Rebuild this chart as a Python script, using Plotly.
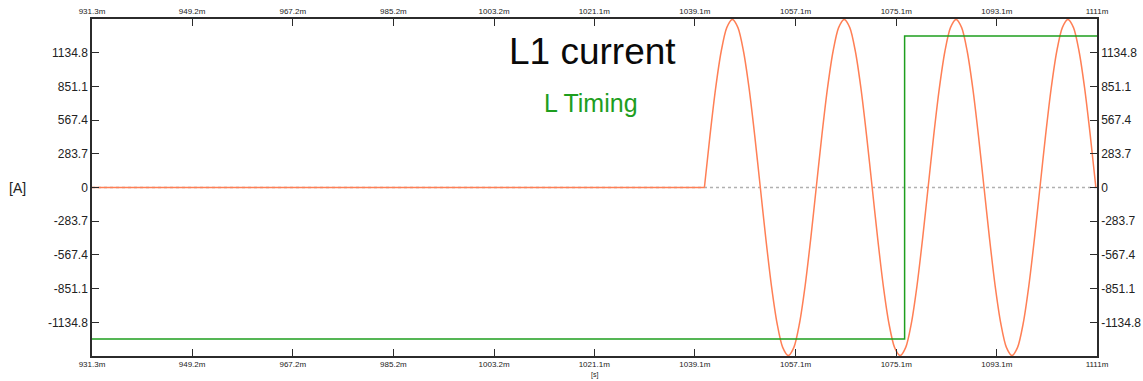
import plotly.graph_objects as go

# time in ms
x_ticks = [931.3, 949.2, 967.2, 985.2, 1003.2, 1021.1, 1039.1, 1057.1, 1075.1, 1093.1, 1111.0]
x_tick_labels = ["931.3m", "949.2m", "967.2m", "985.2m", "1003.2m", "1021.1m",
                 "1039.1m", "1057.1m", "1075.1m", "1093.1m", "1111m"]
y_ticks = [-1134.8, -851.1, -567.4, -283.7, 0, 283.7, 567.4, 851.1, 1134.8]
y_tick_labels = ["-1134.8", "-851.1", "-567.4", "-283.7", "0", "283.7", "567.4", "851.1", "1134.8"]

# L1 current (A): flat before the fault ...
pre_t = [931.3, 1040.8]
pre_a = [0, 0]
# ... then samples every 1 ms from 1040.8 ms
fault_t = [1040.8 + k for k in range(71)]
fault_a = [0, 437, 832, 1145, 1346, 1415, 1346, 1145, 832, 437,
           0, -437, -832, -1145, -1346, -1415, -1346, -1145, -832, -437,
           0, 437, 832, 1145, 1346, 1415, 1346, 1145, 832, 437,
           0, -437, -832, -1145, -1346, -1415, -1346, -1145, -832, -437,
           0, 437, 832, 1145, 1346, 1415, 1346, 1145, 832, 437,
           0, -437, -832, -1145, -1346, -1415, -1346, -1145, -832, -437,
           0, 437, 832, 1145, 1346, 1415, 1346, 1145, 832, 437,
           0]

# L Timing (digital step, drawn on the same scale)
timing_t = [931.3, 1076.6, 1111.0]
timing_v = [-1276, 1276, 1276]

# zero reference
zero_t = [931.3, 1111.0]
zero_v = [0, 0]

X_RANGE = [931.3, 1111.0]
Y_RANGE = [-1418.5, 1418.5]

ORANGE = "#FF7F55"
GREEN = "#1E9E1E"
AXIS = "#2b2b2b"
FONT = "Liberation Sans, Arial, sans-serif"

fig = go.Figure()
fig.add_trace(go.Scatter(x=zero_t, y=zero_v, mode="lines",
                         line=dict(color="#b0b0b0", width=1.5, dash="dot"),
                         hoverinfo="skip", showlegend=False))
fig.add_trace(go.Scatter(x=pre_t, y=pre_a, mode="lines",
                         line=dict(color=ORANGE, width=1.5),
                         name="L1 current", showlegend=False))
fig.add_trace(go.Scatter(x=fault_t, y=fault_a, mode="lines",
                         line=dict(color=ORANGE, width=1.5, shape="spline", smoothing=0.8),
                         name="L1 current", showlegend=False))
fig.add_trace(go.Scatter(x=timing_t, y=timing_v, mode="lines",
                         line=dict(color=GREEN, width=1.5, shape="hv"),
                         name="L Timing", showlegend=False))
# anchor trace for the mirrored (top/right) axes
fig.add_trace(go.Scatter(x=[X_RANGE[0]], y=[0], xaxis="x2", yaxis="y2", mode="markers",
                         marker=dict(opacity=0), hoverinfo="skip", showlegend=False))

axis_common = dict(showgrid=False, zeroline=False, showline=True, linecolor=AXIS,
                   linewidth=1.5, ticks="inside", ticklen=7, tickwidth=1.2, tickcolor=AXIS,
                   automargin=False)

fig.update_layout(
    width=1143, height=381,
    margin=dict(l=92, r=46, t=19, b=25, autoexpand=False),
    paper_bgcolor="white", plot_bgcolor="white",
    font=dict(family=FONT, color="#222222"),
    xaxis=dict(range=X_RANGE, tickvals=x_ticks, ticktext=x_tick_labels,
               tickfont=dict(size=8), side="bottom", **axis_common),
    xaxis2=dict(range=X_RANGE, tickvals=x_ticks, ticktext=x_tick_labels,
                tickfont=dict(size=8), side="top", overlaying="x", anchor="y", **axis_common),
    yaxis=dict(range=Y_RANGE, tickvals=y_ticks, ticktext=y_tick_labels,
               tickfont=dict(size=12), side="left", **axis_common),
    yaxis2=dict(range=Y_RANGE, tickvals=y_ticks, ticktext=y_tick_labels,
                tickfont=dict(size=12), side="right", overlaying="y", anchor="x", **axis_common),
    annotations=[
        dict(text="L1 current", xref="paper", yref="paper", x=0.4977, y=0.903,
             xanchor="center", yanchor="middle",
             showarrow=False, font=dict(size=37, color="#0a0a0a", family=FONT)),
        dict(text="L Timing", xref="paper", yref="paper", x=0.4967, y=0.752,
             xanchor="center", yanchor="middle",
             showarrow=False, font=dict(size=25, color=GREEN, family=FONT)),
        dict(text="[A]", xref="paper", yref="y", x=-0.074, y=0, xanchor="center",
             showarrow=False, font=dict(size=14, color="#222222", family=FONT)),
        dict(text="[s]", xref="paper", yref="paper", x=0.5, y=-0.055, yanchor="middle",
             showarrow=False, font=dict(size=7, color="#222222", family=FONT)),
    ],
)

fig.write_html("out.html")
